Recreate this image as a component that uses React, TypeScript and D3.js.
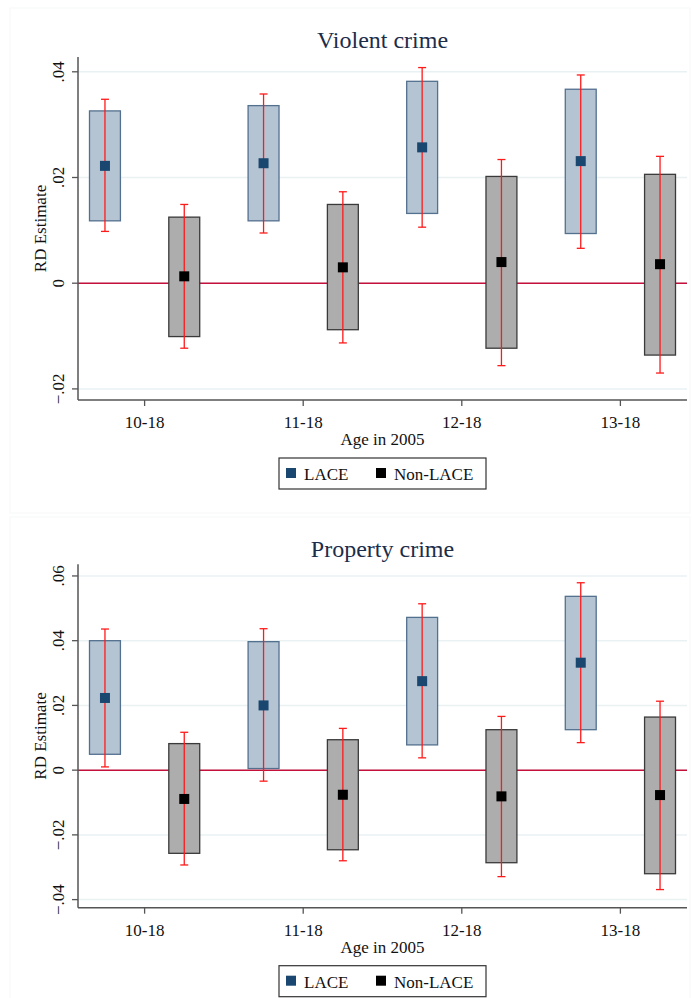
import React from "react";
import * as d3 from "d3";

const W = 692;
const H = 998;

// age groups on the x axis
const groups = ["10-18", "11-18", "12-18", "13-18"];
const seriesNames = ["LACE", "Non-LACE"];

// Violent crime: point estimate, box (inner interval), whisker (outer interval)
const violentLacePt = [0.0222, 0.0227, 0.0257, 0.0231];
const violentLaceBoxLo = [0.0118, 0.0118, 0.0132, 0.0094];
const violentLaceBoxHi = [0.0326, 0.0336, 0.0382, 0.0367];
const violentLaceCiLo = [0.0098, 0.0095, 0.0106, 0.0066];
const violentLaceCiHi = [0.0348, 0.0358, 0.0408, 0.0394];
const violentNonPt = [0.0013, 0.003, 0.004, 0.0036];
const violentNonBoxLo = [-0.0101, -0.0088, -0.0123, -0.0136];
const violentNonBoxHi = [0.0125, 0.0149, 0.0202, 0.0206];
const violentNonCiLo = [-0.0123, -0.0113, -0.0156, -0.017];
const violentNonCiHi = [0.0149, 0.0173, 0.0234, 0.024];
const violentTicks = [-0.02, 0, 0.02, 0.04];

// Property crime
const propertyLacePt = [0.0223, 0.02, 0.0275, 0.0332];
const propertyLaceBoxLo = [0.0049, 0.0005, 0.0078, 0.0125];
const propertyLaceBoxHi = [0.04, 0.0397, 0.0472, 0.0537];
const propertyLaceCiLo = [0.001, -0.0034, 0.0038, 0.0085];
const propertyLaceCiHi = [0.0436, 0.0437, 0.0514, 0.0579];
const propertyNonPt = [-0.0089, -0.0076, -0.0081, -0.0077];
const propertyNonBoxLo = [-0.0257, -0.0246, -0.0286, -0.032];
const propertyNonBoxHi = [0.0082, 0.0094, 0.0125, 0.0164];
const propertyNonCiLo = [-0.0293, -0.028, -0.0329, -0.0369];
const propertyNonCiHi = [0.0117, 0.0129, 0.0166, 0.0213];
const propertyTicks = [-0.04, -0.02, 0, 0.02, 0.04, 0.06];

const FONT = "'Liberation Serif', 'DejaVu Serif', serif";
const laceFill = "#b5c4d3";
const laceStroke = "#53708f";
const laceMarker = "#1a476f";
const nonFill = "#adadad";
const nonStroke = "#3a3a3a";
const nonMarker = "#000000";
const ciColor = "#ff1a1a";
const gridColor = "#eaf1f3";
const zeroColor = "#c4103a";
const axisColor = "#555555";

const fmtTick = (v: number) => {
  if (Math.abs(v) < 1e-9) return "0";
  return d3.format(".2f")(v).replace("0.", ".");
};

type Series = {
  pt: number[];
  boxLo: number[];
  boxHi: number[];
  ciLo: number[];
  ciHi: number[];
  fill: string;
  stroke: string;
  marker: string;
  offset: number;
};

type PanelProps = {
  title: string;
  frameTop: number;
  frameBottom: number;
  titleY: number;
  plotTop: number;
  plotBottom: number;
  yDomain: [number, number];
  ticks: number[];
  series: Series[];
};

const plotLeft = 78;
const plotRight = 687;

function Panel(p: PanelProps) {
  const x = d3.scaleLinear().domain([-0.42, 3.42]).range([plotLeft, plotRight]);
  const y = d3.scaleLinear().domain(p.yDomain).range([p.plotBottom, p.plotTop]);
  const unit = x(1) - x(0);
  const boxW = unit * 0.195;
  const capW = 8;
  const mk = 10;
  const cx = (plotLeft + plotRight) / 2;
  const cy = (p.plotTop + p.plotBottom) / 2;
  const legTop = p.plotBottom + 58;

  return (
    <g>
      <rect x={10} y={p.frameTop} width={W - 12} height={p.frameBottom - p.frameTop}
        fill="white" stroke="#f6f7f8" strokeWidth={1} />
      <text x={cx} y={p.titleY} textAnchor="middle" fontFamily={FONT} fontSize={24} fill="#1c2d4a">
        {p.title}
      </text>

      {/* grid */}
      {p.ticks.map((t) => (
        <line key={"g" + t} x1={plotLeft} x2={plotRight} y1={y(t)} y2={y(t)}
          stroke={gridColor} strokeWidth={1.5} />
      ))}
      <line x1={plotLeft} x2={plotRight} y1={y(0)} y2={y(0)} stroke={zeroColor} strokeWidth={1.5} />

      {/* boxes, whiskers, markers */}
      {p.series.map((s, si) =>
        groups.map((g, i) => {
          const xc = x(i + s.offset);
          return (
            <g key={si + "-" + g}>
              <rect x={xc - boxW / 2} y={y(s.boxHi[i])} width={boxW}
                height={y(s.boxLo[i]) - y(s.boxHi[i])}
                fill={s.fill} stroke={s.stroke} strokeWidth={1.3} />
              <line x1={xc} x2={xc} y1={y(s.ciHi[i])} y2={y(s.ciLo[i])} stroke={ciColor} strokeWidth={1.3} />
              <line x1={xc - capW / 2} x2={xc + capW / 2} y1={y(s.ciHi[i])} y2={y(s.ciHi[i])}
                stroke={ciColor} strokeWidth={1.3} />
              <line x1={xc - capW / 2} x2={xc + capW / 2} y1={y(s.ciLo[i])} y2={y(s.ciLo[i])}
                stroke={ciColor} strokeWidth={1.3} />
              <rect x={xc - mk / 2} y={y(s.pt[i]) - mk / 2} width={mk} height={mk} fill={s.marker} />
            </g>
          );
        })
      )}

      {/* y axis */}
      <line x1={plotLeft} x2={plotLeft} y1={p.plotTop} y2={p.plotBottom} stroke={axisColor} strokeWidth={1.5} />
      {p.ticks.map((t) => (
        <g key={"t" + t}>
          <line x1={plotLeft - 6} x2={plotLeft} y1={y(t)} y2={y(t)} stroke={axisColor} strokeWidth={1.3} />
          <text transform={`translate(${plotLeft - 14},${y(t)}) rotate(-90)`} textAnchor="middle"
            fontFamily={FONT} fontSize={17} fill="#111">
            {fmtTick(t)}
          </text>
        </g>
      ))}
      <text transform={`translate(46,${cy}) rotate(-90)`} textAnchor="middle" fontFamily={FONT}
        fontSize={17} fill="#111">
        RD Estimate
      </text>

      {/* x axis */}
      <line x1={plotLeft} x2={plotRight} y1={p.plotBottom} y2={p.plotBottom} stroke={axisColor} strokeWidth={1.5} />
      {groups.map((g, i) => (
        <g key={"x" + g}>
          <line x1={x(i)} x2={x(i)} y1={p.plotBottom} y2={p.plotBottom + 6} stroke={axisColor} strokeWidth={1.3} />
          <text x={x(i)} y={p.plotBottom + 28} textAnchor="middle" fontFamily={FONT} fontSize={17} fill="#111">
            {g}
          </text>
        </g>
      ))}
      <text x={cx} y={p.plotBottom + 45} textAnchor="middle" fontFamily={FONT} fontSize={17} fill="#111">
        Age in 2005
      </text>

      {/* legend */}
      <rect x={279} y={legTop} width={207} height={31} fill="white" stroke="#333" strokeWidth={1.2} />
      {seriesNames.map((n, i) => {
        const lx = i === 0 ? 286 : 376;
        return (
          <g key={n}>
            <rect x={lx} y={legTop + 10} width={10} height={10} fill={p.series[i].marker} />
            <text x={lx + 18} y={legTop + 22} fontFamily={FONT} fontSize={17} fill="#111">
              {n}
            </text>
          </g>
        );
      })}
    </g>
  );
}

export default function App() {
  const violent: Series[] = [
    { pt: violentLacePt, boxLo: violentLaceBoxLo, boxHi: violentLaceBoxHi, ciLo: violentLaceCiLo,
      ciHi: violentLaceCiHi, fill: laceFill, stroke: laceStroke, marker: laceMarker, offset: -0.25 },
    { pt: violentNonPt, boxLo: violentNonBoxLo, boxHi: violentNonBoxHi, ciLo: violentNonCiLo,
      ciHi: violentNonCiHi, fill: nonFill, stroke: nonStroke, marker: nonMarker, offset: 0.25 },
  ];
  const property: Series[] = [
    { pt: propertyLacePt, boxLo: propertyLaceBoxLo, boxHi: propertyLaceBoxHi, ciLo: propertyLaceCiLo,
      ciHi: propertyLaceCiHi, fill: laceFill, stroke: laceStroke, marker: laceMarker, offset: -0.25 },
    { pt: propertyNonPt, boxLo: propertyNonBoxLo, boxHi: propertyNonBoxHi, ciLo: propertyNonCiLo,
      ciHi: propertyNonCiHi, fill: nonFill, stroke: nonStroke, marker: nonMarker, offset: 0.25 },
  ];

  return (
    <svg width={W} height={H} style={{ position: "absolute", left: 0, top: 0, background: "white" }}>
      <Panel title="Violent crime" frameTop={8} frameBottom={513} titleY={48} plotTop={57} plotBottom={400}
        yDomain={[-0.0221, 0.0428]} ticks={violentTicks} series={violent} />
      <Panel title="Property crime" frameTop={517} frameBottom={1010} titleY={557} plotTop={564.3}
        plotBottom={907.7} yDomain={[-0.0425, 0.0636]} ticks={propertyTicks} series={property} />
    </svg>
  );
}
